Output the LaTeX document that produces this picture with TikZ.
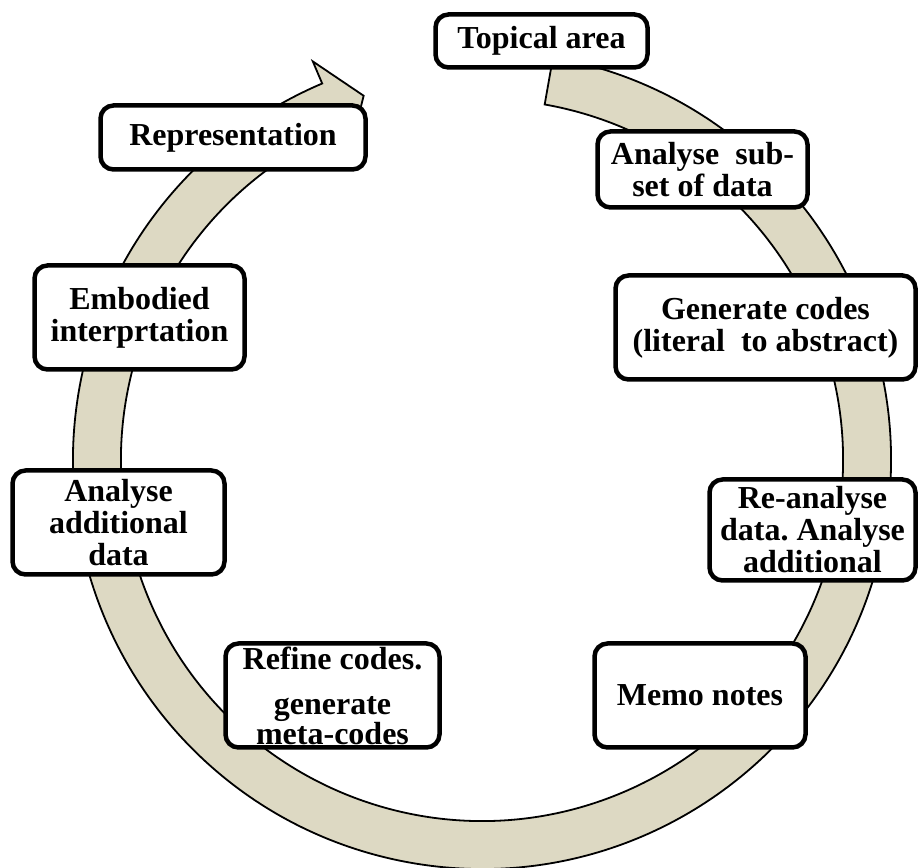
\documentclass[tikz,border=0pt]{standalone}
\usepackage{fontspec}
\setmainfont{Liberation Serif}
\usetikzlibrary{calc}
\definecolor{ringfill}{HTML}{DDD9C3}
\frenchspacing
\tikzset{
  stagebox/.style={draw=black, fill=white, line width=4.5pt, rounded corners=13pt,
    align=center, inner sep=0pt, font=\fontsize{32}{32}\selectfont\bfseries},
  ringband/.style={fill=ringfill, draw=black, line width=1.8pt, line join=miter}
}
\begin{document}
\begin{tikzpicture}[x=1pt,y=1pt]
\useasboundingbox (0,0) rectangle (919,868);
\coordinate (C) at (482,408);
% circular arrow band
\path[ringband]
  ($(C)+(80:409)$) arc[start angle=80, end angle=-247, radius=409]
  -- ($(C)+(-247:433)$) -- ($(C)+(-252:383)$) -- ($(C)+(-247:337)$)
  -- ($(C)+(-247:361)$)
  arc[start angle=-247, end angle=80, radius=361] -- cycle;
% stages
\node[stagebox, minimum width=212pt, minimum height=53pt] (topical) at (541.5,827) {Topical area};
\node[stagebox, minimum width=265pt, minimum height=64pt] (repr) at (233,730.5) {Representation};
\node[stagebox, minimum width=210pt, minimum height=104pt] (embod) at (139.5,550.5) {Embodied\\interprtation};
\node[stagebox, minimum width=212pt, minimum height=104pt] (addl) at (118.5,345.5) {Analyse\\additional\\data};
\node[stagebox, minimum width=214pt, minimum height=104pt] (refine) at (332.5,172.5) {Refine codes.\\[13pt]generate\\[-2pt]meta-codes};
\node[stagebox, minimum width=211pt, minimum height=104pt] (memo) at (700,172.5) {Memo notes};
\node[stagebox, minimum width=206pt, minimum height=101pt] (reanal) at (812.5,338) {Re-analyse\\data. Analyse\\additional};
\node[stagebox, minimum width=300pt, minimum height=104pt] (gen) at (765.5,540.5) {Generate codes\\(literal\ \ to abstract)};
\node[stagebox, minimum width=210pt, minimum height=76pt] (subset) at (702.5,698.5) {Analyse\ \ sub-\\set of data};
\end{tikzpicture}
\end{document}
